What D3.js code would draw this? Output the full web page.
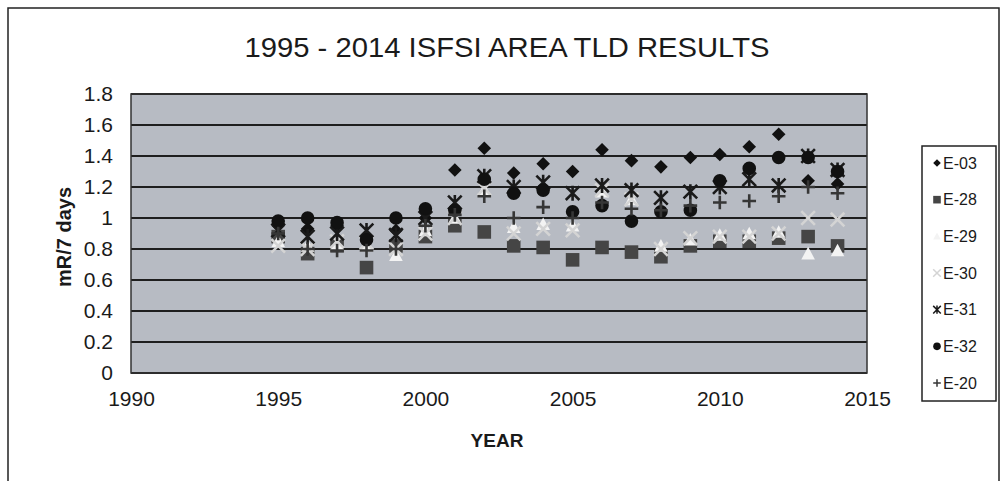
<!DOCTYPE html>
<html>
<head>
<meta charset="utf-8">
<script src="https://cdn.jsdelivr.net/npm/d3@7"></script>
<style>
  html, body { margin: 0; padding: 0; background: #ffffff; }
  svg { display: block; font-family: "Liberation Sans", Arial, sans-serif; }
</style>
</head>
<body>
<svg id="chart" width="1004" height="481"></svg>
<script>
// Survey years
const years = [1995, 1996, 1997, 1998, 1999, 2000, 2001, 2002, 2003, 2004,
               2005, 2006, 2007, 2008, 2009, 2010, 2011, 2012, 2013, 2014];

// Dose rate per TLD location (mR / 7 days)
const e03 = [0.95, 0.93, 0.95, 0.88, 0.92, 1.00, 1.31, 1.45, 1.29, 1.35,
             1.30, 1.44, 1.37, 1.33, 1.39, 1.41, 1.46, 1.54, 1.24, 1.22];
const e28 = [0.88, 0.77, 0.82, 0.68, 0.82, 0.88, 0.95, 0.91, 0.82, 0.81,
             0.73, 0.81, 0.78, 0.75, 0.82, 0.85, 0.85, 0.87, 0.88, 0.82];
const e29 = [0.85, 0.82, 0.83, 0.82, 0.76, 0.92, 1.00, 1.18, 0.94, 0.96,
             0.95, 1.17, 1.12, 0.82, 0.86, 0.89, 0.90, 0.91, 0.77, 0.79];
const e30 = [0.82, 0.80, 0.85, 0.84, 0.80, 0.90, 1.00, 1.19, 0.90, 0.93,
             0.92, 1.18, 1.12, 0.80, 0.87, 0.88, 0.88, 0.90, 1.00, 0.99];
const e31 = [0.92, 0.88, 0.90, 0.92, 0.89, 1.00, 1.10, 1.27, 1.20, 1.23,
             1.16, 1.21, 1.18, 1.13, 1.17, 1.20, 1.25, 1.21, 1.40, 1.31];
const e32 = [0.98, 1.00, 0.97, 0.86, 1.00, 1.06, 1.05, 1.25, 1.16, 1.18,
             1.04, 1.08, 0.98, 1.04, 1.05, 1.24, 1.32, 1.39, 1.39, 1.30];
const e20 = [0.90, 0.80, 0.79, 0.79, 0.80, 0.95, 1.02, 1.14, 1.00, 1.07,
             1.00, 1.10, 1.06, 1.05, 1.08, 1.10, 1.11, 1.14, 1.20, 1.16];

const seriesNames = ["E-03", "E-28", "E-29", "E-30", "E-31", "E-32", "E-20"];
const seriesValues = [e03, e28, e29, e30, e31, e32, e20];

const xTicks = [1990, 1995, 2000, 2005, 2010, 2015];
const yTicks = [0, 0.2, 0.4, 0.6, 0.8, 1, 1.2, 1.4, 1.6, 1.8];

// Marker styling per station
const markerStyle = {
  "E-03": { shape: "diamond",  color: "#111111" },
  "E-28": { shape: "square",   color: "#454545" },
  "E-29": { shape: "triangle", color: "#f3f3f3" },
  "E-30": { shape: "x",        color: "#d4d4d4" },
  "E-31": { shape: "star",     color: "#1a1a1a" },
  "E-32": { shape: "circle",   color: "#111111" },
  "E-20": { shape: "plus",     color: "#363636" }
};

function markerPath(shape, r) {
  switch (shape) {
    case "diamond":  return `M0,${-r}L${r},0L0,${r}L${-r},0Z`;
    case "square":   return `M${-r},${-r}H${r}V${r}H${-r}Z`;
    case "triangle": return `M0,${-r}L${r},${r * 0.85}L${-r},${r * 0.85}Z`;
    case "circle":   return d3.arc()({ innerRadius: 0, outerRadius: r, startAngle: 0, endAngle: 2 * Math.PI });
    case "x":        return `M${-r},${-r}L${r},${r}M${-r},${r}L${r},${-r}`;
    case "star":     return `M${-r},${-r}L${r},${r}M${-r},${r}L${r},${-r}M0,${-r * 1.1}L0,${r * 1.1}`;
    case "plus":     return `M${-r},0H${r}M0,${-r}V${r}`;
  }
}
const stroked = new Set(["x", "star", "plus"]);

function drawMarker(sel, name, r, sw) {
  const st = markerStyle[name];
  sel.attr("d", markerPath(st.shape, r));
  if (stroked.has(st.shape)) {
    sel.attr("fill", "none").attr("stroke", st.color).attr("stroke-width", sw);
  } else {
    sel.attr("fill", st.color).attr("stroke", "none");
  }
}

const svg = d3.select("#chart");

// Outer chart frame
svg.append("rect")
  .attr("x", 8).attr("y", 8).attr("width", 991).attr("height", 478)
  .attr("fill", "#ffffff").attr("stroke", "#222").attr("stroke-width", 1.5);

const plot = { left: 131, right: 867, top: 94, bottom: 373 };

const x = d3.scaleLinear().domain([1990, 2015]).range([plot.left, plot.right]);
const y = d3.scaleLinear().domain([0, 1.8]).range([plot.bottom, plot.top]);

// Plot background
svg.append("rect")
  .attr("x", plot.left).attr("y", plot.top)
  .attr("width", plot.right - plot.left).attr("height", plot.bottom - plot.top)
  .attr("fill", "#b7bbc3");

// Horizontal gridlines
svg.append("g")
  .selectAll("line")
  .data(yTicks)
  .join("line")
  .attr("x1", plot.left).attr("x2", plot.right)
  .attr("y1", d => y(d)).attr("y2", d => y(d))
  .attr("stroke", "#1e1e1e").attr("stroke-width", 2);

// Plot border
svg.append("rect")
  .attr("x", plot.left).attr("y", plot.top)
  .attr("width", plot.right - plot.left).attr("height", plot.bottom - plot.top)
  .attr("fill", "none").attr("stroke", "#333").attr("stroke-width", 1.5);

// Axes
const yAxis = d3.axisLeft(y).tickValues(yTicks).tickSize(0).tickPadding(18)
  .tickFormat(d => d3.format("~g")(d));
const gy = svg.append("g").attr("transform", `translate(${plot.left},0)`).call(yAxis);
gy.select(".domain").remove();
gy.selectAll("text").attr("font-size", 21).attr("fill", "#1a1a1a")
  .attr("font-family", "Liberation Sans, Arial, sans-serif");

const xAxis = d3.axisBottom(x).tickValues(xTicks).tickSize(0).tickPadding(18)
  .tickFormat(d3.format("d"));
const gx = svg.append("g").attr("transform", `translate(0,${plot.bottom})`).call(xAxis);
gx.select(".domain").remove();
gx.selectAll("text").attr("font-size", 21).attr("fill", "#1a1a1a")
  .attr("font-family", "Liberation Sans, Arial, sans-serif");

// Title and axis titles
svg.append("text")
  .attr("x", 507).attr("y", 57)
  .attr("text-anchor", "middle")
  .attr("font-size", 28)
  .attr("textLength", 525).attr("lengthAdjust", "spacingAndGlyphs")
  .attr("fill", "#1a1a1a")
  .text("1995 - 2014 ISFSI AREA TLD RESULTS");

svg.append("text")
  .attr("transform", "translate(71,237) rotate(-90)")
  .attr("text-anchor", "middle")
  .attr("font-size", 20).attr("font-weight", "bold").attr("fill", "#1a1a1a")
  .text("mR/7 days");

svg.append("text")
  .attr("x", 497).attr("y", 447)
  .attr("text-anchor", "middle")
  .attr("font-size", 19).attr("font-weight", "bold").attr("fill", "#1a1a1a")
  .text("YEAR");

// Data markers, one layer per station
const points = seriesNames.map((name, i) => ({
  name,
  pts: years.map((yr, j) => ({ year: yr, value: seriesValues[i][j] }))
}));

const layers = svg.append("g")
  .selectAll("g")
  .data(points)
  .join("g");

layers.each(function (s) {
  d3.select(this).selectAll("path")
    .data(s.pts)
    .join("path")
    .attr("transform", d => `translate(${x(d.year)},${y(d.value)})`)
    .call(sel => drawMarker(sel, s.name, 6.8, 2.6));
});

// Legend
const legend = svg.append("g");
legend.append("rect")
  .attr("x", 922).attr("y", 146).attr("width", 74).attr("height", 255)
  .attr("fill", "#ffffff").attr("stroke", "#222").attr("stroke-width", 1.5);

const legendY = d3.scalePoint().domain(seriesNames).range([163, 383]);

const items = legend.selectAll("g.item")
  .data(seriesNames)
  .join("g")
  .attr("class", "item")
  .attr("transform", d => `translate(937,${legendY(d)})`);

items.append("path").each(function (d) {
  d3.select(this).call(sel => drawMarker(sel, d, 3.8, 1.5));
});

items.append("text")
  .attr("x", 6).attr("dy", "0.36em")
  .attr("font-size", 16).attr("fill", "#1a1a1a")
  .text(d => d);
</script>
</body>
</html>
